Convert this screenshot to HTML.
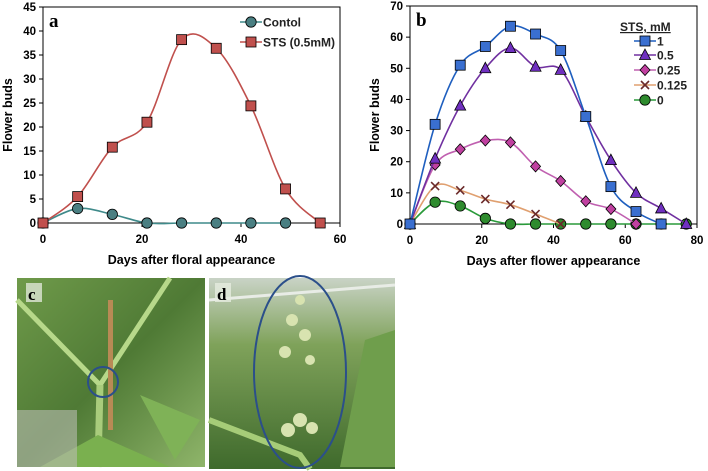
<!DOCTYPE html>
<html><head><meta charset="utf-8">
<style>
html,body{margin:0;padding:0;background:#fff;width:708px;height:471px;overflow:hidden}
svg{display:block;font-family:"Liberation Sans",sans-serif}
.tk{font-size:11.5px;font-weight:bold;fill:#000}
.at{font-size:12.5px;font-weight:bold;fill:#000}
.lg{font-size:12px;font-weight:bold;fill:#222}
</style></head><body>
<svg id="fig" width="708" height="471" viewBox="0 0 708 471">
<defs>
<linearGradient id="gc" x1="0" y1="0" x2="1" y2="1"><stop offset="0" stop-color="#6f9a4a"/><stop offset="0.5" stop-color="#4f7a35"/><stop offset="1" stop-color="#8fb56a"/></linearGradient>
<linearGradient id="gd" x1="0" y1="0" x2="0" y2="1"><stop offset="0" stop-color="#c9d3c6"/><stop offset="0.35" stop-color="#7fa25a"/><stop offset="1" stop-color="#3f6a2c"/></linearGradient>
</defs>
<g id="photoC">
<rect x="17" y="278" width="188" height="189" fill="url(#gc)"/>
<path d="M17,300 L100,385 L170,278" stroke="#b7d88a" stroke-width="5" fill="none"/>
<path d="M100,385 L98,467" stroke="#a9cc7c" stroke-width="7"/>
<rect x="108" y="300" width="5" height="130" fill="#b88a55"/>
<path d="M40,467 L98,435 L170,467 Z" fill="#7ab04f"/>
<path d="M140,395 L175,460 L200,420 Z" fill="#7fb257"/>
<rect x="17" y="410" width="60" height="57" fill="#b9bdb3" opacity="0.6"/>
<circle cx="103" cy="382" r="15" fill="none" stroke="#2b4f8a" stroke-width="2"/>
<rect x="26" y="283" width="16" height="19" fill="#dfe6d6" opacity="0.8"/>
<text x="28" y="300" font-family="Liberation Serif,serif" font-weight="bold" font-size="17">c</text>
</g>
<g id="photoD">
<rect x="209" y="278" width="186" height="191" fill="url(#gd)"/>
<path d="M209,300 L395,285" stroke="#e8ece6" stroke-width="3"/>
<path d="M340,467 L365,340 L395,330 L395,467 Z" fill="#6f9e4c"/>
<path d="M209,420 L300,455 L310,469" stroke="#a6cc78" stroke-width="6" fill="none"/>
<g fill="#d8e3b0"><circle cx="300" cy="300" r="5"/><circle cx="292" cy="320" r="6"/><circle cx="305" cy="335" r="6"/><circle cx="285" cy="352" r="6"/><circle cx="310" cy="360" r="5"/><circle cx="300" cy="420" r="7"/><circle cx="288" cy="430" r="7"/><circle cx="312" cy="428" r="6"/></g>
<ellipse cx="300" cy="372" rx="46" ry="96" fill="none" stroke="#2b4f8a" stroke-width="2"/>
<rect x="215" y="283" width="16" height="19" fill="#e6ece0" opacity="0.8"/>
<text x="217" y="300" font-family="Liberation Serif,serif" font-weight="bold" font-size="17">d</text>
</g>
</svg>
<script>
// Panel a data
const daysA = [0,7,14,21,28,35,42,49,56];
const controlA = [0,3,1.8,0,0,0,0,0];
const stsA = [0,5.5,15.8,21,38.2,36.4,24.4,7.1,0];
const xTicksA = [0,20,40,60];
const yTicksA = [0,5,10,15,20,25,30,35,40,45];
// Panel b data
const daysB = [0,7,14,21,28,35,42,49,56,63,70,77];
const sts1 = [0,32,51,57,63.5,61,55.7,34.5,12,4,0];
const sts05 = [0,21,38,50,56.5,50.5,49.5,34.5,20.5,10,5,0];
const sts025 = [0,19,24,26.8,26.2,18.5,13.8,7.3,4.8,0];
const sts0125 = [0,12.2,10.8,8,6.2,3.2,0];
const sts0 = [0,7,5.8,1.8,0,0,0,0,0,0,0,0];
const xTicksB = [0,20,40,60,80];
const yTicksB = [0,10,20,30,40,50,60,70];
const legendB = ["1","0.5","0.25","0.125","0"];

const NS="http://www.w3.org/2000/svg";
const svg=document.getElementById('fig');
function mk(tag,attrs,parent){const e=document.createElementNS(NS,tag);for(const k in attrs)e.setAttribute(k,attrs[k]);(parent||svg).appendChild(e);return e;}
function spline(pts){let d=`M${pts[0][0]},${pts[0][1]}`;for(let i=0;i<pts.length-1;i++){const p0=pts[i-1]||pts[i],p1=pts[i],p2=pts[i+1],p3=pts[i+2]||p2;const t=0.5/3;d+=` C${p1[0]+(p2[0]-p0[0])*t},${p1[1]+(p2[1]-p0[1])*t} ${p2[0]-(p3[0]-p1[0])*t},${p2[1]-(p3[1]-p1[1])*t} ${p2[0]},${p2[1]}`;}return d;}
function marker(g,type,x,y,fill){
  let e;
  if(type==='sq') e=mk('rect',{x:x-5,y:y-5,width:10,height:10,fill:fill,stroke:'#000','stroke-width':0.8},g);
  else if(type==='ci') e=mk('circle',{cx:x,cy:y,r:5.2,fill:fill,stroke:'#000','stroke-width':0.8},g);
  else if(type==='tri') e=mk('path',{d:`M${x},${y-6} L${x+5.5},${y+4.5} L${x-5.5},${y+4.5}Z`,fill:fill,stroke:'#000','stroke-width':0.8},g);
  else if(type==='dia') e=mk('path',{d:`M${x},${y-5.5} L${x+5},${y} L${x},${y+5.5} L${x-5},${y}Z`,fill:fill,stroke:'#000','stroke-width':0.8},g);
  else if(type==='x'){e=mk('path',{d:`M${x-4},${y-4}L${x+4},${y+4}M${x+4},${y-4}L${x-4},${y+4}`,stroke:'#6b2a2a','stroke-width':1.6},g);}
  
  
}
function panel(o){
  const g=mk('g',{});
  
  
  const X=v=>o.x0+(v-o.xmin)/(o.xmax-o.xmin)*(o.x1-o.x0);
  const Y=v=>o.y0-(v)/(o.ymax)*(o.y0-o.y1);
  const box=mk('rect',{x:o.x0,y:o.y1,width:o.x1-o.x0,height:o.y0-o.y1,fill:'none',stroke:'#000','stroke-width':1},g);
  
  
  o.yt.forEach(v=>{mk('line',{x1:o.x0-4,x2:o.x0,y1:Y(v),y2:Y(v),stroke:'#000'},g);
    const t=mk('text',{x:o.x0-7,y:Y(v)+4,'text-anchor':'end',class:'tk'},g);t.textContent=v;
    
    });
  o.xt.forEach(v=>{mk('line',{x1:X(v),x2:X(v),y1:o.y0,y2:o.y0+4,stroke:'#000'},g);
    const t=mk('text',{x:X(v),y:o.y0+20,'text-anchor':'middle',class:'tk'},g);t.textContent=v;
    
    });
  const yt=mk('text',{x:0,y:0,transform:`translate(${o.x0-31},${(o.y0+o.y1)/2}) rotate(-90)`,'text-anchor':'middle',class:'at'},g);yt.textContent='Flower buds';
  
  
  const xt=mk('text',{x:(o.x0+o.x1)/2,y:o.y0+41,'text-anchor':'middle',class:'at'},g);xt.textContent=o.xtitle;
  
  
  const pl=mk('text',{x:o.x0+6,y:o.y1+20,'font-family':'Liberation Serif,serif','font-weight':'bold','font-size':'19'},g);pl.textContent=o.label;
  
  
  o.series.forEach(s=>{
    const sg=mk('g',{},g);
    
    
    const pts=s.vals.map((v,i)=>[X(o.days[i]),Y(v)]);
    mk('path',{d:spline(pts),fill:'none',stroke:s.line,'stroke-width':1.6},sg);
    pts.forEach(p=>marker(sg,s.m,p[0],p[1],s.fill));
  });
  return g;
}
panel({name:'chart-a',x0:43,x1:340,y0:223,y1:7,xmin:0,xmax:60,ymax:45,xt:xTicksA,yt:yTicksA,days:daysA,label:'a',xtitle:'Days after floral appearance',
 series:[{key:'control',vals:controlA,line:'#3f8a8a',fill:'#4a7f82',m:'ci'},{key:'sts',vals:stsA,line:'#c0504d',fill:'#c0504d',m:'sq'}]});
panel({name:'chart-b',x0:410,x1:697,y0:224,y1:6,xmin:0,xmax:80,ymax:70,xt:xTicksB,yt:yTicksB,days:daysB,label:'b',xtitle:'Days after flower appearance',
 series:[{key:'0',vals:sts0,line:'#2a9a3a',fill:'#2e8b2e',m:'ci'},{key:'0125',vals:sts0125,line:'#e0a070',fill:'#6b2a2a',m:'x'},{key:'025',vals:sts025,line:'#c060b0',fill:'#c040a0',m:'dia'},{key:'05',vals:sts05,line:'#7030a0',fill:'#7030c0',m:'tri'},{key:'1',vals:sts1,line:'#1f5fbf',fill:'#3a6fd0',m:'sq'}]});
// legend a
const la=[{t:'Contol',line:'#3f8a8a',fill:'#4a7f82',m:'ci',y:22},{t:'STS (0.5mM)',line:'#c0504d',fill:'#c0504d',m:'sq',y:42}];
la.forEach(l=>{const g=mk('g',{});
  
  
  mk('line',{x1:240,x2:262,y1:l.y,y2:l.y,stroke:l.line,'stroke-width':1.6},g);marker(g,l.m,251,l.y,l.fill);
  const t=mk('text',{x:263,y:l.y+4.5,class:'lg'},g);t.textContent=l.t;});
// legend b
const lh=mk('text',{x:620,y:31,class:'lg','text-decoration':'underline'});lh.textContent='STS, mM';


const lb=[['#1f5fbf','#3a6fd0','sq',41],['#7030a0','#7030c0','tri',55],['#c060b0','#c040a0','dia',70],['#e0a070','#6b2a2a','x',85],['#2a9a3a','#2e8b2e','ci',100]];
legendB.forEach((n,i)=>{const [ln,f,m,y]=lb[i];const g=mk('g',{});
  
  
  mk('line',{x1:634,x2:656,y1:y,y2:y,stroke:ln,'stroke-width':1.6},g);marker(g,m,645,y,f);
  const t=mk('text',{x:657,y:y+4.5,class:'lg'},g);t.textContent=n;});
</script>
</body></html>
